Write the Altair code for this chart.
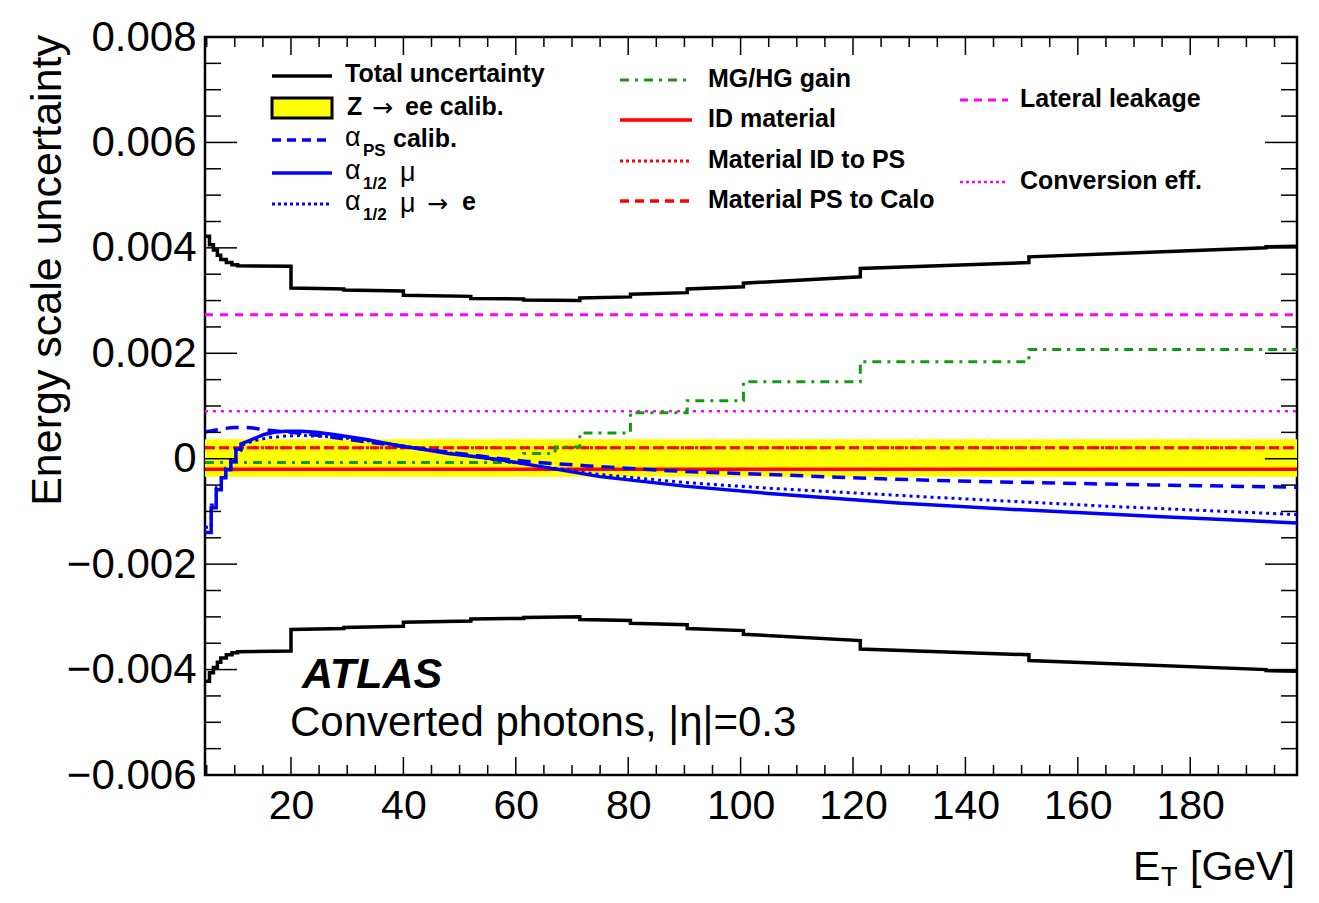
import altair as alt
import pandas as pd

W, H = 1092, 738
X_MIN, X_MAX = 4.7, 199.0
Y_MIN, Y_MAX = -0.006, 0.008
FONT = "Liberation Sans"

# ---------------- data ----------------
# Total uncertainty, upper envelope (lower envelope is its mirror image)
total_x = [4.7, 5.5, 5.5, 6.2, 6.2, 6.9, 6.9, 7.5, 7.5, 8.5, 8.5, 9.5, 9.5, 10.5, 10.5, 20.0,
           20.0, 29.4, 29.4, 40.0, 40.0, 52.0, 52.0, 61.4, 61.4, 71.4, 71.4, 80.4, 80.4, 90.5,
           90.5, 100.5, 100.5, 121.3, 121.3, 151.3, 151.3, 193.5, 193.5, 199.0]
total_y = [0.00422, 0.00422, 0.00406, 0.00406, 0.00396, 0.00396, 0.00386, 0.00386, 0.00378, 0.00378,
           0.00372, 0.00372, 0.00368, 0.00368, 0.00366, 0.00365, 0.00324, 0.00322, 0.00320, 0.00318,
           0.00310, 0.00308, 0.00304, 0.00303, 0.00301, 0.00300, 0.00305, 0.00307, 0.00312, 0.00315,
           0.00322, 0.00326, 0.00333, 0.00345, 0.00361, 0.00372, 0.00383, 0.00400, 0.00402, 0.00403]

# Z->ee calibration band
zee_lo, zee_hi = -0.00034, 0.00037

# alpha_PS calib. (blue dashed)
aps_x = [4.7, 6, 8, 10, 12, 14, 16, 20, 25, 30, 35, 40, 50, 60, 75, 90, 105, 128, 160, 199]
aps_y = [0.00051, 0.00053, 0.00057, 0.00059, 0.00059, 0.00057, 0.00054, 0.00050, 0.00044, 0.00037,
         0.00030, 0.00023, 0.00010, -0.00003, -0.00015, -0.00024, -0.00030, -0.00039, -0.00047, -0.00054]

# alpha_1/2 mu (blue solid)
a12_x = [4.7, 5.8, 5.8, 6.7, 6.7, 7.6, 7.6, 8.4, 8.4, 9.3, 9.3, 10.2, 10.2, 11.1, 11.1, 12.5, 13.4,
         15.2, 17, 19, 21.8, 24.5, 27.6, 30.5, 33.7, 36.5, 39.6, 44, 48, 52.5, 57.3, 65, 75, 90,
         105, 128, 150, 175, 199]
a12_y = [-0.00140, -0.00140, -0.00093, -0.00093, -0.00059, -0.00059, -0.00036, -0.00036, -0.00021,
         -0.00021, -0.00005, -0.00005, 0.00018, 0.00018, 0.00028, 0.00034, 0.00038, 0.00046, 0.00050,
         0.00052, 0.00052, 0.00050, 0.00046, 0.00041, 0.00036, 0.00030, 0.00024, 0.00017, 0.00010,
         0.00004, -0.00002, -0.00016, -0.00034, -0.00052, -0.00066, -0.00084, -0.00097, -0.00110, -0.00122]

# alpha_1/2 mu -> e (blue dotted)
a12e_x = [4.7, 5.8, 5.8, 6.7, 6.7, 7.6, 7.6, 8.4, 8.4, 9.3, 9.3, 10.2, 10.2, 11.1, 11.1, 13.4, 16,
          19, 22, 26, 30, 35, 40, 50, 60, 75, 90, 105, 134, 165, 199]
a12e_y = [-0.00130, -0.00130, -0.00088, -0.00088, -0.00055, -0.00055, -0.00033, -0.00033, -0.00018,
          -0.00018, -0.00003, -0.00003, 0.00016, 0.00016, 0.00025, 0.00034, 0.00040, 0.00043, 0.00044,
          0.00042, 0.00039, 0.00032, 0.00024, 0.00008, -0.00008, -0.00030, -0.00045, -0.00056,
          -0.00073, -0.00090, -0.00106]

# MG/HG gain (green dash-dot, stepped)
gain_x = [4.7, 61.4, 67.0, 71.4, 80.4, 90.5, 100.5, 121.3, 151.3, 199.0]
gain_y = [-0.00007, 0.00010, 0.00022, 0.00049, 0.00087, 0.00110, 0.00146, 0.00184, 0.00207, 0.00207]

# flat components
id_material = -0.00020
mat_id_ps = 0.00021
mat_ps_calo = 0.00021
lateral_leakage = 0.00273
conversion_eff = 0.00090

x_major = [20, 40, 60, 80, 100, 120, 140, 160, 180]
y_major = [-0.006, -0.004, -0.002, 0.0, 0.002, 0.004, 0.006, 0.008]

# ---------------- helpers ----------------
xscale = alt.Scale(domain=[X_MIN, X_MAX], nice=False, zero=False)
yscale = alt.Scale(domain=[Y_MIN, Y_MAX], nice=False, zero=False)
xaxis = alt.Axis(values=x_major, ticks=False, domain=False, grid=False, title=None,
                 labelFontSize=41, labelFont=FONT, labelColor="black", labelPadding=11,
                 labelOverlap=False, labelFlush=False)
yaxis = alt.Axis(values=y_major, ticks=False, domain=False, grid=False, title=None, format=".3f",
                 labelExpr="datum.value == 0 ? '0' : datum.label",
                 labelFontSize=42, labelFont=FONT, labelColor="black", labelPadding=9,
                 labelOverlap=False, labelFlush=False)

BLUE, RED, MAG, GREEN, YEL = "#0000ff", "#ff0000", "#ff00ff", "#139a13", "#ffff00"


def X(f="x"):
    return alt.X(f"{f}:Q", scale=xscale, axis=xaxis)


def Y(f="y"):
    return alt.Y(f"{f}:Q", scale=yscale, axis=yaxis)


def curve(xs, ys, color, width, dash=None, interp="linear"):
    df = pd.DataFrame({"x": xs, "y": ys, "i": list(range(len(xs)))})
    kw = dict(color=color, strokeWidth=width, interpolate=interp, clip=True)
    if dash:
        kw["strokeDash"] = dash
    return alt.Chart(df).mark_line(**kw).encode(x=X(), y=Y(), order="i:Q")


def flat(v, color, width, dash=None):
    return curve([X_MIN, X_MAX], [v, v], color, width, dash)


one = pd.DataFrame({"a": [0]})


def txt(s, x, y, size=25, bold=True, italic=False, align="left", baseline="middle", angle=None,
        font=FONT):
    kw = dict(text=s, font=font, fontSize=size, fontWeight="bold" if bold else "normal",
              color="black", align=align, baseline=baseline)
    if italic:
        kw["fontStyle"] = "italic"
    if angle is not None:
        kw["angle"] = angle
    return alt.Chart(one).mark_text(**kw).encode(x=alt.value(x), y=alt.value(y))


def arrow(x, y):
    return txt("\u2192", x, y, size=25, bold=False, font="DejaVu Sans")


def sample(x0, x1, y, color, width, dash=None):
    kw = dict(color=color, strokeWidth=width)
    if dash:
        kw["strokeDash"] = dash
    return alt.Chart(one).mark_rule(**kw).encode(x=alt.value(x0), x2=alt.value(x1), y=alt.value(y))


def xticks(vals, length, top=False):
    df = pd.DataFrame({"t": vals})
    y0, y1 = (0, length) if top else (H, H - length)
    return alt.Chart(df).mark_rule(color="black", strokeWidth=1.5).encode(
        x=X("t"), y=alt.value(y0), y2=alt.value(y1))


def yticks(vals, length, right=False):
    df = pd.DataFrame({"t": vals})
    x0, x1 = (W, W - length) if right else (0, length)
    return alt.Chart(df).mark_rule(color="black", strokeWidth=1.5).encode(
        y=Y("t"), x=alt.value(x0), x2=alt.value(x1))


# ---------------- layers ----------------
band = alt.Chart(pd.DataFrame({"x": [X_MIN], "x2": [X_MAX], "y": [zee_lo], "y2": [zee_hi]})).mark_rect(
    color=YEL).encode(x=X(), x2="x2:Q", y=Y(), y2="y2:Q")

DASH = [13, 8]
DOT = [3, 4]
layers = [
    band,
    flat(conversion_eff, MAG, 2.5, [3, 5]),
    flat(lateral_leakage, MAG, 3, [8, 7]),
    flat(mat_ps_calo, RED, 3, [9, 6]),
    flat(mat_id_ps, RED, 3, [3, 4]),
    flat(id_material, RED, 3.5),
    curve(gain_x, gain_y, GREEN, 3, [9, 6, 3, 6], "step-after"),
    curve(aps_x, aps_y, BLUE, 3.5, DASH, "monotone"),
    curve(a12e_x, a12e_y, BLUE, 3, DOT),
    curve(a12_x, a12_y, BLUE, 3.5),
    curve(total_x, total_y, "black", 3.5),
    curve(total_x, [-v for v in total_y], "black", 3.5),
]

x_minor = [v for v in range(5, 200, 5) if v % 20 != 0]
y_minor = [round(-0.006 + 0.0005 * k, 4) for k in range(29)]
y_minor = [v for v in y_minor if round(v / 0.002, 6) != round(v / 0.002)]
layers += [
    xticks(x_major, 18), xticks(x_minor, 10),
    xticks(x_major, 18, top=True), xticks(x_minor, 10, top=True),
    yticks(y_major, 32), yticks(y_minor, 16),
    yticks(y_major, 32, right=True), yticks(y_minor, 16, right=True),
]

# legend column 1
c1a, c1b, c1t = 67, 127, 140
layers += [
    sample(c1a, c1b, 39, "black", 3.5),
    txt("Total uncertainty", c1t, 37),
    alt.Chart(one).mark_rect(fill=YEL, stroke="black", strokeWidth=3).encode(
        x=alt.value(c1a), x2=alt.value(c1b), y=alt.value(61), y2=alt.value(81)),
    txt("Z", 142, 70), arrow(167, 71), txt("ee calib.", 200, 70),
    sample(c1a, c1b, 103, BLUE, 3.5, [9, 6]),
    txt("\u03b1", 140, 101, size=27, bold=False), txt("PS", 158, 114, size=17), txt("calib.", 188, 102),
    sample(c1a, c1b, 136, BLUE, 3.5),
    txt("\u03b1", 140, 134, size=27, bold=False), txt("1/2", 158, 147, size=17),
    txt("\u03bc", 195, 136, size=27, bold=False),
    sample(c1a, c1b, 167, BLUE, 3, [3, 3]),
    txt("\u03b1", 140, 165, size=27, bold=False), txt("1/2", 158, 178, size=17),
    txt("\u03bc", 195, 167, size=27, bold=False), arrow(222, 167),
    txt("e", 257, 165),
]
# legend column 2
c2a, c2b, c2t = 415, 487, 503
layers += [
    sample(c2a, c2b, 43, GREEN, 3, [9, 6, 3, 6]), txt("MG/HG gain", c2t, 42),
    sample(c2a, c2b, 83, RED, 3.5), txt("ID material", c2t, 82),
    sample(c2a, c2b, 124, RED, 3, [3, 3]), txt("Material ID to PS", c2t, 123),
    sample(c2a, c2b, 164, RED, 3.5, [9, 6]), txt("Material PS to Calo", c2t, 163),
]
# legend column 3
c3a, c3b, c3t = 755, 803, 815
layers += [
    sample(c3a, c3b, 63, MAG, 3, [8, 6]), txt("Lateral leakage", c3t, 62),
    sample(c3a, c3b, 145, MAG, 2.5, [3, 3]), txt("Conversion eff.", c3t, 144),
]
# labels
layers += [
    txt("ATLAS", 97, 651, size=43, italic=True, baseline="alphabetic"),
    txt("Converted photons, |\u03b7|=0.3", 85, 699, size=42, bold=False, baseline="alphabetic"),
    txt("Energy scale uncertainty", -157, -2, size=43, bold=False, align="right", angle=270),
    txt("E", 928, 843, size=41, bold=False, baseline="alphabetic"),
    txt("T", 956, 849, size=27, bold=False, baseline="alphabetic"),
    txt("[GeV]", 985, 843, size=41, bold=False, baseline="alphabetic"),
]

chart = alt.layer(*layers).properties(
    width=W, height=H,
    autosize=alt.AutoSizeParams(type="none"),
    padding={"left": 197, "top": 29, "right": 6, "bottom": 118},
    background="white",
).configure_view(stroke="black", strokeWidth=2.5)

chart.save("out.html", embed_options={"renderer": "svg", "actions": False})
